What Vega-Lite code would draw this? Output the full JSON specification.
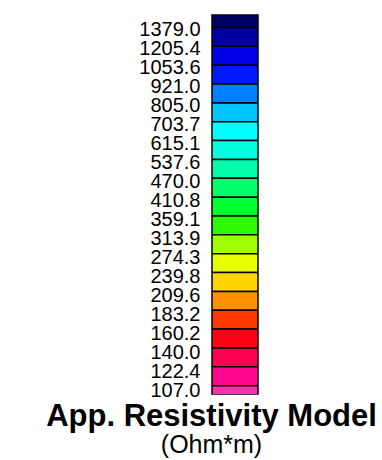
{
  "$schema": "https://vega.github.io/schema/vega-lite/v6.json",
  "autosize": {"type": "none"},
  "width": 46,
  "height": 379,
  "padding": {"left": 212, "top": 15, "right": 124, "bottom": 66},
  "background": "white",
  "data": {
    "values": [
      {"cell": 0, "lower": 1379.0},
      {"cell": 1, "lower": 1205.4},
      {"cell": 2, "lower": 1053.6},
      {"cell": 3, "lower": 921.0},
      {"cell": 4, "lower": 805.0},
      {"cell": 5, "lower": 703.7},
      {"cell": 6, "lower": 615.1},
      {"cell": 7, "lower": 537.6},
      {"cell": 8, "lower": 470.0},
      {"cell": 9, "lower": 410.8},
      {"cell": 10, "lower": 359.1},
      {"cell": 11, "lower": 313.9},
      {"cell": 12, "lower": 274.3},
      {"cell": 13, "lower": 239.8},
      {"cell": 14, "lower": 209.6},
      {"cell": 15, "lower": 183.2},
      {"cell": 16, "lower": 160.2},
      {"cell": 17, "lower": 140.0},
      {"cell": 18, "lower": 122.4},
      {"cell": 19, "lower": 107.0},
      {"cell": 20, "lower": null}
    ]
  },
  "layer": [
    {
      "mark": {"type": "rect", "stroke": "black", "strokeWidth": 1.5, "clip": true},
      "encoding": {
        "y": {
          "field": "cell", "type": "quantitative",
          "bin": {"step": 1, "extent": [0, 21]},
          "scale": {"domain": [0.363, 20.47], "reverse": true, "nice": false, "zero": false},
          "axis": null
        },
        "color": {
          "field": "cell", "type": "ordinal", "legend": null,
          "scale": {"range": [
            "#000064", "#0000A0", "#0000E6", "#0018FF", "#0080FF", "#00C4FF", "#00FFFF",
            "#00FFE0", "#00FFAA", "#00FF6A", "#00FF30", "#30F800", "#A0FF00", "#E8FF00",
            "#FFD400", "#FF9000", "#FF3800", "#FF0018", "#FF0050", "#FF0890", "#FF30B0"
          ]}
        }
      }
    },
    {
      "transform": [{"filter": "datum.lower != null"}],
      "mark": {"type": "point", "opacity": 0},
      "encoding": {
        "y": {
          "field": "lower", "type": "ordinal", "sort": null,
          "scale": {"paddingInner": 0, "paddingOuter": 0.142, "align": 1},
          "axis": {
            "title": null, "domain": false, "ticks": false, "format": ".1f",
            "labelFont": "Liberation Sans", "labelFontSize": 20, "labelColor": "black",
            "labelPadding": 12, "labelOverlap": false, "labelBound": false, "grid": false,
            "labelOffset": -4
          }
        }
      }
    }
  ],
  "resolve": {"scale": {"y": "independent"}, "axis": {"y": "independent"}},
  "title": {
    "text": "App. Resistivity Model",
    "subtitle": "(Ohm*m)",
    "orient": "bottom",
    "anchor": "middle",
    "frame": "group",
    "dx": -23.5,
    "offset": 2,
    "font": "Liberation Sans",
    "fontSize": 31,
    "fontWeight": "bold",
    "color": "black",
    "subtitleFont": "Liberation Sans",
    "subtitleFontSize": 25,
    "subtitleColor": "black",
    "subtitlePadding": 0
  },
  "config": {"view": {"stroke": "black", "strokeWidth": 1.5}}
}
